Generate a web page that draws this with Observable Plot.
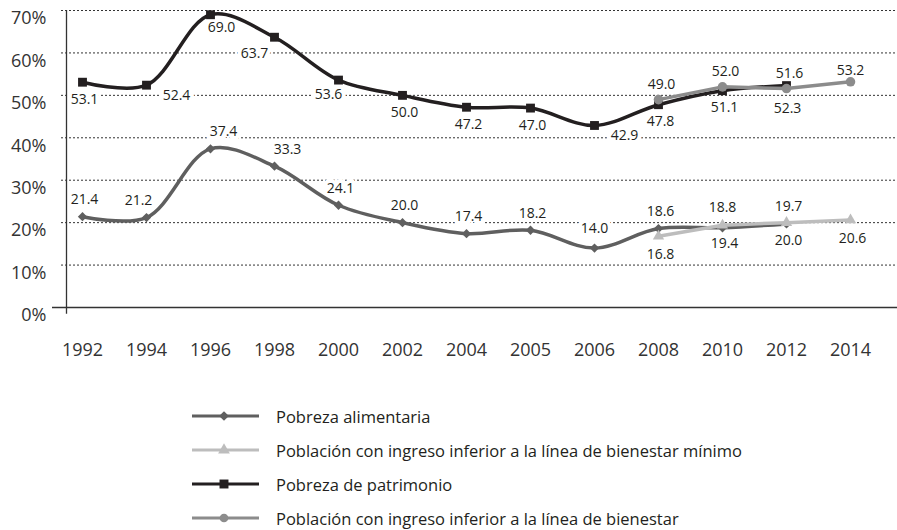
<!DOCTYPE html>
<html>
<head>
<meta charset="utf-8">
<script src="https://cdn.jsdelivr.net/npm/d3@7"></script>
<script src="https://cdn.jsdelivr.net/npm/@observablehq/plot@0.6"></script>
<style>
  html, body { margin: 0; padding: 0; background: #fff; }
  body { width: 897px; height: 530px; overflow: hidden; font-family: 'Open Sans', sans-serif; }
  #chart svg { display: block; }
  .legend { margin-top: 19px; }
  .legend .row { display: flex; align-items: center; height: 34px; }
  .legend svg { margin-left: 192px; display: block; }
  .legend span { margin-left: 17px; font-size: 16.5px; color: #231f20; }
</style>
</head>
<body>
<div id="chart"></div>
<div class="legend" id="legend"></div>
<script>
const years = ["1992","1994","1996","1998","2000","2002","2004","2005","2006","2008","2010","2012","2014"];
const pobrezaAlimentaria = [21.4, 21.2, 37.4, 33.3, 24.1, 20.0, 17.4, 18.2, 14.0, 18.6, 18.8, 19.7, null];
const bienestarMinimo    = [null, null, null, null, null, null, null, null, null, 16.8, 19.4, 20.0, 20.6];
const pobrezaPatrimonio  = [53.1, 52.4, 69.0, 63.7, 53.6, 50.0, 47.2, 47.0, 42.9, 47.8, 51.1, 52.3, null];
const bienestar          = [null, null, null, null, null, null, null, null, null, 49.0, 52.0, 51.6, 53.2];
const yTicks = [0, 10, 20, 30, 40, 50, 60, 70];
const seriesNames = [
  "Pobreza alimentaria",
  "Población con ingreso inferior a la línea de bienestar mínimo",
  "Pobreza de patrimonio",
  "Población con ingreso inferior a la línea de bienestar"
];

const colors = ["#5f5f5f", "#bdbdbd", "#231f20", "#8c8c8c"];
const symbols = ["diamond2", "triangle", "square", "circle"];

const toRows = vals => years.map((year, i) => ({year, value: vals[i]})).filter(d => d.value != null);
const rowsAli = toRows(pobrezaAlimentaria);
const rowsMin = toRows(bienestarMinimo);
const rowsPat = toRows(pobrezaPatrimonio);
const rowsBie = toRows(bienestar);

const fmt = d3.format(".1f");
const labelStyle = {
  x: "year", y: "value", text: d => fmt(d.value),
  fontSize: 14, fill: "#231f20", stroke: "white", strokeWidth: 8,
  strokeLinejoin: "round", paintOrder: "stroke"
};
function labels(rows, dx, dy, overrides = []) {
  const special = overrides.flatMap(o => o.years);
  return [
    Plot.text(rows.filter(d => !special.includes(d.year)), {...labelStyle, dx, dy}),
    ...overrides.map(o => Plot.text(rows.filter(d => o.years.includes(d.year)), {...labelStyle, dx: o.dx, dy: o.dy}))
  ];
}

const chart = Plot.plot({
  width: 897,
  height: 380,
  marginLeft: 61,
  marginRight: 0,
  marginTop: 10,
  marginBottom: 73,
  style: {fontFamily: "'Open Sans', sans-serif", color: "#231f20", background: "white"},
  x: {type: "point", domain: years, range: [77, 855], padding: 0, label: null},
  y: {domain: [0, 70], label: null},
  marks: [
    Plot.ruleY(yTicks.filter(t => t > 0), {stroke: "#333", strokeWidth: 1, strokeDasharray: "2,2"}),
    Plot.axisY({ticks: yTicks, tickFormat: d => d + "%", tickSize: 0, tickPadding: 15, dy: 8, fontSize: 18, fill: "#333", label: null}),
    Plot.axisX({tickSize: 0, tickPadding: 36, fontSize: 18, fill: "#333", label: null}),
    // labels (drawn before the lines so their white background cuts the gridlines)
    ...labels(rowsAli, 2, -17, [
      {years: ["1994"], dx: -8, dy: -17},
      {years: ["1996", "1998"], dx: 13, dy: -17},
      {years: ["2006", "2010"], dx: 0, dy: -20}
    ]),
    ...labels(rowsMin, 2, 18),
    ...labels(rowsPat, 2, 17, [
      {years: ["1994", "2006"], dx: 30, dy: 10},
      {years: ["1996"], dx: 11, dy: 13},
      {years: ["1998"], dx: -20, dy: 16},
      {years: ["2000"], dx: -10, dy: 14},
      {years: ["2012"], dx: 1, dy: 23}
    ]),
    ...labels(rowsBie, 3, -15, [
      {years: ["2014"], dx: 0, dy: -11}
    ]),
    Plot.ruleY([0], {stroke: "#333", strokeWidth: 1.3, insetLeft: -9}),
    Plot.ruleX([years[0]], {dx: -16, y1: -1.6, y2: 70, stroke: "#333", strokeWidth: 1.3}),
    // series
    Plot.line(rowsAli, {x: "year", y: "value", stroke: colors[0], strokeWidth: 3.5, curve: "catmull-rom"}),
    Plot.dot(rowsAli, {x: "year", y: "value", symbol: symbols[0], r: 4.2, fill: colors[0]}),
    Plot.line(rowsMin, {x: "year", y: "value", stroke: colors[1], strokeWidth: 3.5}),
    Plot.dot(rowsMin, {x: "year", y: "value", symbol: symbols[1], r: 4.2, fill: colors[1]}),
    Plot.line(rowsPat, {x: "year", y: "value", stroke: colors[2], strokeWidth: 3.5, curve: "catmull-rom"}),
    Plot.dot(rowsPat, {x: "year", y: "value", symbol: symbols[2], r: 5, fill: colors[2]}),
    Plot.line(rowsBie, {x: "year", y: "value", stroke: colors[3], strokeWidth: 3.5}),
    Plot.dot(rowsBie, {x: "year", y: "value", symbol: symbols[3], r: 4.8, fill: colors[3]})
  ]
});
document.getElementById("chart").appendChild(chart);

// legend
const legend = document.getElementById("legend");
const symMap = {diamond2: d3.symbolDiamond2, triangle: d3.symbolTriangle, square: d3.symbolSquare, circle: d3.symbolCircle};
seriesNames.forEach((name, i) => {
  const row = document.createElement("div");
  row.className = "row";
  const sw = d3.create("svg").attr("width", 67).attr("height", 20);
  sw.append("line").attr("x1", 0).attr("x2", 67).attr("y1", 10).attr("y2", 10)
    .attr("stroke", colors[i]).attr("stroke-width", 3);
  sw.append("path").attr("transform", "translate(32,10)")
    .attr("d", d3.symbol(symMap[symbols[i]], i === 2 ? 80 : 60)())
    .attr("fill", colors[i]);
  row.appendChild(sw.node());
  const t = document.createElement("span");
  t.textContent = name;
  row.appendChild(t);
  legend.appendChild(row);
});
</script>
</body>
</html>
